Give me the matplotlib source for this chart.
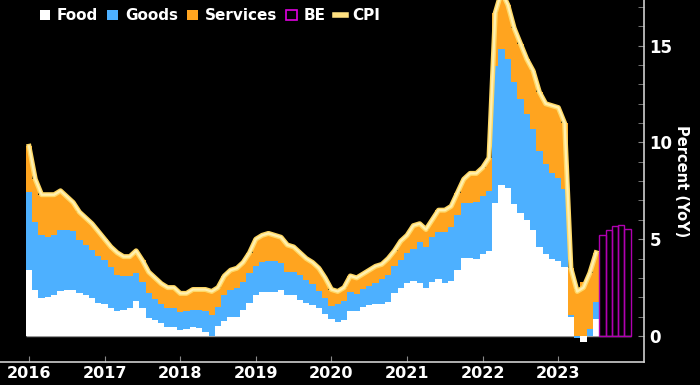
import numpy as np
import matplotlib
matplotlib.use("Agg")
from matplotlib import pyplot as plt
from matplotlib.patches import Patch
from matplotlib.lines import Line2D
import matplotlib.patheffects as pe

# monthly data, Jan 2016 .. Jul 2023 (contributions, percentage points)
food = [3.4, 2.4, 1.95, 2.0, 2.1, 2.3, 2.4, 2.4, 2.2, 2.1, 1.95, 1.7,
        1.65, 1.45, 1.3, 1.35, 1.45, 1.8, 1.45, 0.95, 0.8, 0.65, 0.45, 0.45,
        0.32, 0.34, 0.48, 0.4, 0.2, 0.0, 0.5, 0.75, 1.0, 1.0, 1.35, 1.72,
        2.1, 2.25, 2.25, 2.25, 2.4, 2.12, 2.12, 1.86, 1.72, 1.62, 1.45, 1.15,
        0.86, 0.74, 0.83, 1.3, 1.27, 1.5, 1.62, 1.64, 1.67, 1.77, 2.22, 2.5,
        2.72, 2.84, 2.75, 2.46, 2.8, 2.93, 2.73, 2.85, 3.41, 4.01, 4.01, 3.96,
        4.25, 4.41, 6.86, 7.8, 7.63, 6.82, 6.37, 6.0, 5.45, 4.58, 4.24, 3.96,
        3.87, 3.55, 1.0, 0.0, -0.3, 0.0, 0.9]
goods = [4.06, 3.5, 3.27, 3.13, 3.12, 3.18, 3.1, 3.03, 2.76, 2.6, 2.49, 2.43,
         2.28, 2.1, 1.85, 1.77, 1.67, 1.47, 1.35, 1.25, 1.1, 1.0, 0.98, 0.98,
         0.94, 0.96, 0.85, 0.93, 1.11, 1.08, 1.02, 1.37, 1.38, 1.47, 1.46, 1.52,
         1.52, 1.57, 1.61, 1.61, 1.37, 1.2, 1.2, 1.29, 1.17, 1.04, 0.85, 0.8,
         0.69, 0.91, 0.97, 0.95, 0.88, 0.95, 0.98, 1.11, 1.28, 1.38, 1.38, 1.45,
         1.58, 1.66, 2.09, 2.16, 2.3, 2.46, 2.66, 2.8, 2.84, 2.88, 2.88, 2.98,
         2.99, 3.1, 7.09, 7.01, 6.67, 6.32, 5.88, 5.45, 5.22, 4.99, 4.66, 4.44,
         4.27, 4.03, 0.1, -0.1, 0.0, 0.35, 0.87]
services = [2.34, 2.2, 2.08, 2.17, 2.08, 2.02, 1.7, 1.47, 1.44, 1.4, 1.36, 1.27,
            1.07, 1.05, 1.15, 0.98, 0.98, 1.13, 1.1, 1.1, 1.1, 1.05, 1.07, 1.07,
            0.94, 0.9, 1.07, 1.07, 1.09, 1.22, 0.98, 0.98, 1.02, 1.03, 0.99, 1.06,
            1.38, 1.38, 1.44, 1.34, 1.33, 1.38, 1.28, 1.15, 1.11, 1.14, 1.2, 1.05,
            0.85, 0.65, 0.7, 0.85, 0.85, 0.75, 0.8, 0.85, 0.75, 0.85, 0.8, 0.95,
            0.9, 1.2, 0.96, 0.88, 0.9, 1.11, 1.11, 1.05, 1.15, 1.21, 1.51, 1.46,
            1.46, 1.69, 2.75, 2.99, 2.8, 2.76, 2.85, 2.85, 3.03, 3.03, 3.1, 3.5,
            3.66, 3.42, 2.4, 2.4, 2.8, 2.9, 2.53]
cpi = [9.8, 8.1, 7.3, 7.3, 7.3, 7.5, 7.2, 6.9, 6.4, 6.1, 5.8, 5.4,
       5.0, 4.6, 4.3, 4.1, 4.1, 4.4, 3.9, 3.3, 3.0, 2.7, 2.5, 2.5,
       2.2, 2.2, 2.4, 2.4, 2.4, 2.3, 2.5, 3.1, 3.4, 3.5, 3.8, 4.3,
       5.0, 5.2, 5.3, 5.2, 5.1, 4.7, 4.6, 4.3, 4.0, 3.8, 3.5, 3.0,
       2.4, 2.3, 2.5, 3.1, 3.0, 3.2, 3.4, 3.6, 3.7, 4.0, 4.4, 4.9,
       5.2, 5.7, 5.8, 5.5, 6.0, 6.5, 6.5, 6.7, 7.4, 8.1, 8.4, 8.4,
       8.7, 9.2, 16.7, 17.8, 17.1, 15.9, 15.1, 14.3, 13.7, 12.6, 12.0, 11.9,
       11.8, 11.0, 3.5, 2.3, 2.5, 3.25, 4.3]
# breakeven, Aug..Dec 2023
be = [5.22, 5.48, 5.68, 5.74, 5.55]
years = ['2016', '2017', '2018', '2019', '2020', '2021', '2022', '2023']

WHITE = '#ffffff'
BLUE = '#4db0ff'
ORANGE = '#ffa41f'
MAGENTA = '#b000b0'
CPI_COL = '#fff0b0'
AXIS = '#cfcfcf'

x = np.arange(len(cpi))
x_be = np.arange(len(cpi), len(cpi) + len(be))

fig = plt.figure(figsize=(7, 3.85), dpi=100, facecolor='black')
ax = fig.add_axes([0.0, 0.06, 0.92, 0.94], facecolor='black')

# stack positives up from zero, negatives down from zero
pos = np.zeros(len(x))
neg = np.zeros(len(x))
for vals, col in [(food, WHITE), (goods, BLUE), (services, ORANGE)]:
    v = np.array(vals)
    base = np.where(v >= 0, pos, neg)
    ax.bar(x, v, width=1.0, bottom=base, color=col, linewidth=0, zorder=2)
    pos = pos + np.clip(v, 0, None)
    neg = neg + np.clip(v, None, 0)

ax.bar(x_be, be, width=1.0, facecolor='none', edgecolor=MAGENTA, linewidth=1.0, zorder=2)

ax.plot(x, cpi, color=CPI_COL, lw=1.6, zorder=4, solid_joinstyle='round',
        path_effects=[pe.Stroke(linewidth=3.6, foreground='#ffd866'), pe.Normal()])

# zero line only under the bars
ax.hlines(0, x[0] - 0.5, x_be[-1] + 0.5, color='#9a9a9a', lw=1, zorder=1)

ax.set_xlim(-4.6, 97.6)
ax.set_ylim(-1.34, 17.36)

# axes styling
for s in ['top', 'left']:
    ax.spines[s].set_visible(False)
for s in ['bottom', 'right']:
    ax.spines[s].set_color(AXIS)
    ax.spines[s].set_linewidth(1.2)

ax.yaxis.tick_right()
ax.yaxis.set_label_position('right')
ax.set_yticks([0, 5, 10, 15])
ax.set_yticks(np.arange(0, 18, 1), minor=True)
ax.tick_params(axis='y', which='both', direction='in', length=4, color='#888888',
               labelcolor='white', labelsize=12, pad=4)
ax.set_xticks(np.arange(0, 96, 12))
ax.set_xticklabels(years)
ax.tick_params(axis='x', which='both', direction='in', length=4, color='#888888',
               labelcolor='white', labelsize=11.5, pad=3)
for lab in ax.get_xticklabels() + ax.get_yticklabels():
    lab.set_fontweight('bold')

ax.set_ylabel('Percent (YoY)', color='white', fontsize=10.5, fontweight='bold',
              rotation=270, labelpad=12)

handles = [Patch(facecolor=WHITE, edgecolor='none'),
           Patch(facecolor=BLUE, edgecolor='none'),
           Patch(facecolor=ORANGE, edgecolor='none'),
           Patch(facecolor='none', edgecolor='#e000e0', linewidth=1.2),
           Line2D([0], [0], color='#ffe080', lw=4)]
labels = ['Food', 'Goods', 'Services', 'BE', 'CPI']
leg = ax.legend(handles, labels, loc='upper left', bbox_to_anchor=(0.04, 1.015),
                ncol=5, frameon=False, handlelength=0.7, handleheight=0.7,
                handletextpad=0.45, columnspacing=0.6,
                prop={'weight': 'bold', 'size': 11})
for t in leg.get_texts():
    t.set_color('white')

fig.savefig('out.png', dpi=100, facecolor='black')
